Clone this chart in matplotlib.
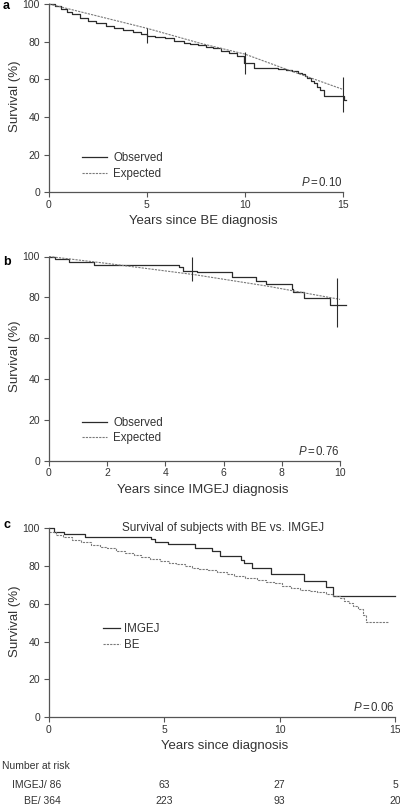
import matplotlib
matplotlib.use('Agg')
import matplotlib.pyplot as plt
import matplotlib.transforms as mtransforms

plt.rcParams['font.family'] = ['Liberation Sans', 'DejaVu Sans']
plt.rcParams['mathtext.fontset'] = 'custom'
plt.rcParams['mathtext.rm'] = 'Liberation Sans'
plt.rcParams['mathtext.it'] = 'Liberation Sans:italic'

W, H = 400, 807

# panel a: BE cohort
a_obs_t = [0, 0.3, 0.6, 0.9, 1.2, 1.6, 2.0, 2.4, 2.9, 3.3, 3.8, 4.3, 4.7, 5.0, 5.4, 5.9,
           6.4, 6.9, 7.2, 7.6, 8.0, 8.4, 8.8, 9.2, 9.6, 9.95, 10.47, 11.7, 12.1, 12.4,
           12.7, 12.9, 13.1, 13.2, 13.4, 13.55, 13.7, 13.85, 14.06, 15.08, 15.15]
a_obs_s = [100, 98.8, 97.5, 96.0, 94.5, 92.4, 91.2, 89.8, 88.5, 87.1, 86.0, 85.0, 84.3,
           83.2, 82.5, 81.7, 80.6, 79.3, 78.8, 78.2, 77.3, 76.4, 75.0, 73.8, 72.6, 68.5,
           66.2, 65.7, 65.0, 64.3, 63.6, 63.0, 61.5, 60.5, 59.3, 57.8, 56.1, 54.5, 51.3,
           49.0, 49.0]
a_exp_t = [0, 5, 7.74, 10, 12, 15]
a_exp_s = [100, 87.1, 79.1, 73.4, 65.8, 54.7]
a_ci_t = [5, 10, 15]
a_ci_lo = [79.3, 62.8, 42.8]
a_ci_hi = [87.3, 74.7, 61.4]

# panel b: IMGEJ cohort
b_obs_t = [0, 0.2, 0.7, 1.56, 4.48, 4.6, 5.07, 6.3, 7.1, 7.45, 8.34, 8.4, 8.78, 9.64, 10.2]
b_obs_s = [100, 98.9, 97.3, 95.9, 94.8, 93.1, 92.2, 90.2, 88.1, 86.6, 84.0, 82.4, 79.6,
           76.3, 76.3]
b_exp_t = [0, 2, 5, 7.5, 10]
b_exp_s = [100, 96.6, 91.1, 85.5, 79.0]
b_ci_t = [4.9, 9.9]
b_ci_lo = [88.1, 65.4]
b_ci_hi = [99.7, 89.4]

# panel c: BE vs IMGEJ
c_img_t = [0, 0.22, 0.65, 1.56, 4.44, 4.59, 5.14, 6.32, 7.05, 7.42, 8.34, 8.45, 8.78,
           9.64, 11.05, 11.99, 12.3, 15.0]
c_img_s = [100, 98.0, 96.8, 95.4, 94.2, 92.8, 91.4, 89.6, 87.8, 85.4, 83.0, 81.4, 79.0,
           75.5, 72.0, 69.0, 64.1, 64.1]
c_be_t = [0, 0.3, 0.6, 1.0, 1.4, 1.8, 2.2, 2.5, 2.9, 3.3, 3.7, 4.0, 4.4, 4.8, 5.2, 5.5,
          5.9, 6.2, 6.5, 6.9, 7.3, 7.7, 8.0, 8.5, 9.0, 9.4, 9.8, 10.1, 10.5, 10.9, 11.3,
          11.6, 12.0, 12.3, 12.6, 12.8, 13.0, 13.2, 13.4, 13.6, 13.75, 14.7]
c_be_s = [97.8, 96.5, 95.2, 93.7, 92.5, 91.2, 90.0, 89.2, 87.9, 86.7, 85.5, 84.7, 83.8,
          82.8, 81.6, 80.9, 79.9, 79.0, 78.2, 77.6, 76.8, 75.6, 74.4, 73.5, 72.6, 71.6,
          70.8, 69.5, 68.2, 67.2, 66.6, 66.0, 65.3, 64.1, 62.9, 61.5, 60.3, 59.0, 57.2,
          54.0, 50.5, 50.5]
risk_t = [5, 10, 15]
risk_labels = ['IMGEJ/ 86', 'BE/ 364']
risk_img = [63, 27, 5]
risk_be = [223, 93, 20]

DARK = '#2b2b2b'
GREY = '#7a7a7a'
AXC = '#555555'
TXT = '#333333'


def make_axes(fig, x0, y0, x1, y1, xmax, xhi, yhi=102):
    # x0,y0 = pixel of (0,0); x1 = pixel of xmax; y1 = pixel of 100
    px = (x1 - x0) / xmax
    py = (y0 - y1) / 100
    ax = fig.add_axes([x0 / W, 1 - y0 / H, px * xhi / W, py * yhi / H])
    ax.set_xlim(0, xhi)
    ax.set_ylim(0, yhi)
    for s in ['top', 'right']:
        ax.spines[s].set_visible(False)
    ax.spines['left'].set_bounds(0, 100)
    ax.spines['bottom'].set_bounds(0, xmax)
    for s in ['left', 'bottom']:
        ax.spines[s].set_color(AXC)
        ax.spines[s].set_linewidth(0.9)
    ax.set_yticks(range(0, 101, 20))
    ax.tick_params(direction='out', length=3.5, width=0.8, color=AXC,
                   labelsize=7.5, labelcolor=TXT, pad=2)
    ax.tick_params(axis='y', pad=3)
    ax.set_ylabel('Survival (%)', fontsize=9.5, color=TXT, labelpad=1)
    return ax


def add_legend(ax, x, y, hl, pad):
    ax.legend(loc='lower left', bbox_to_anchor=(x, y), frameon=False, fontsize=8.3,
              handlelength=hl, handletextpad=pad, labelspacing=0.3, labelcolor=TXT,
              borderaxespad=0, borderpad=0)


fig = plt.figure(figsize=(W / 100, H / 100), dpi=100)

# ---- a
ax = make_axes(fig, 49, 192.3, 342.7, 4, 15, 15.8)
ax.step(a_obs_t, a_obs_s, where='post', color=DARK, lw=0.9, label='Observed')
ax.plot(a_exp_t, a_exp_s, color=GREY, lw=0.8, ls=(0, (2, 1)), label='Expected')
ax.vlines(a_ci_t, a_ci_lo, a_ci_hi, color=DARK, lw=0.8)
ax.set_xticks([0, 5, 10, 15])
ax.set_xlabel('Years since BE diagnosis', fontsize=9.5, color=TXT, labelpad=4)
add_legend(ax, 0.107, 0.066, 2.2, 0.5)
ax.text(15, 1.5, r'$\mathit{P}\,$=$\,$0.10', ha='right', va='bottom', fontsize=8.3,
        color=TXT)
fig.text(3 / W, 1 - 6 / H, 'a', fontsize=9, fontweight='bold', va='center')

# ---- b
ax = make_axes(fig, 49, 460.7, 340, 256.5, 10, 10.6)
ax.step(b_obs_t, b_obs_s, where='post', color=DARK, lw=0.9, label='Observed')
ax.plot(b_exp_t, b_exp_s, color=GREY, lw=0.8, ls=(0, (2, 1)), label='Expected')
ax.vlines(b_ci_t, b_ci_lo, b_ci_hi, color=DARK, lw=0.8)
ax.set_xticks(range(0, 11, 2))
ax.set_xlabel('Years since IMGEJ diagnosis', fontsize=9.5, color=TXT, labelpad=4)
add_legend(ax, 0.107, 0.08, 2.2, 0.5)
ax.text(10, 1.5, r'$\mathit{P}\,$=$\,$0.76', ha='right', va='bottom', fontsize=8.3,
        color=TXT)
fig.text(3 / W, 1 - 262 / H, 'b', fontsize=9, fontweight='bold', va='center')

# ---- c
ax = make_axes(fig, 49, 717.3, 395, 528, 15, 15.2)
ax.step(c_img_t, c_img_s, where='post', color=DARK, lw=0.9, label='IMGEJ')
ax.step(c_be_t, c_be_s, where='post', color=GREY, lw=0.8, ls=(0, (2, 1)), label='BE')
ax.set_xticks([0, 5, 10, 15])
ax.set_xlabel('Years since diagnosis', fontsize=9.5, color=TXT, labelpad=4)
add_legend(ax, 0.154, 0.345, 1.5, 0.3)
ax.text(15, 1.5, r'$\mathit{P}\,$=$\,$0.06', ha='right', va='bottom', fontsize=8.3,
        color=TXT)
fig.text(223 / W, 1 - 528 / H, 'Survival of subjects with BE vs. IMGEJ', fontsize=8.5,
         color=TXT, ha='center', va='center')
fig.text(3 / W, 1 - 525 / H, 'c', fontsize=9, fontweight='bold', va='center')

# number at risk table
tr = mtransforms.blended_transform_factory(ax.transData, fig.transFigure)
fig.text(2 / W, 1 - 766 / H, 'Number at risk', fontsize=7.5, color=TXT, va='center')
for lab, vals, ypx in [(risk_labels[0], risk_img, 785), (risk_labels[1], risk_be, 801)]:
    fig.text(61 / W, 1 - ypx / H, lab, fontsize=7.5, color=TXT, va='center',
             ha='right')
    for t, v in zip(risk_t, vals):
        ax.text(t, 1 - ypx / H, str(v), transform=tr, fontsize=7.5, color=TXT,
                va='center', ha='center', clip_on=False)

fig.savefig('out.png', dpi=100)
